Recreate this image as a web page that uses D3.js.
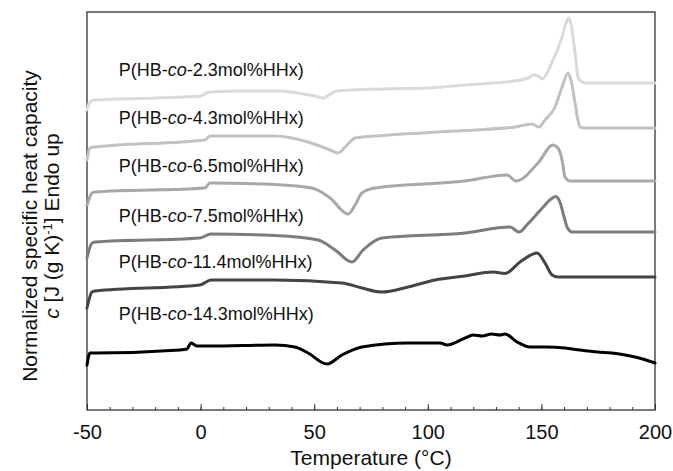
<!DOCTYPE html>
<html>
<head>
<meta charset="utf-8">
<script src="https://cdn.jsdelivr.net/npm/d3@7"></script>
<style>
  body { margin: 0; background: #fff; }
  text { font-family: "Liberation Sans", Arial, sans-serif; }
</style>
</head>
<body>
<svg id="chart-dsc" width="673" height="471"></svg>
<script>
// sample names, top to bottom
var samples = ["2.3", "4.3", "6.5", "7.5", "11.4", "14.3"];

// traces: [temperature (°C), c in arbitrary offset units]
var hhx23 = [[-50, 300], [-49, 307], [-47, 310], [-20, 312], [0, 314], [4, 318], [20, 319], [35, 319],
  [45, 316], [50, 314], [54, 312], [57, 316], [60, 319], [80, 321], [100, 322], [116, 325], [138, 329],
  [144, 332], [146.7, 335], [148.5, 334], [150.3, 331], [152, 335], [155.1, 350], [157, 360], [159.1, 373],
  [161, 388], [162, 392], [163, 386], [163.5, 380], [164.5, 362], [165.2, 350], [166.1, 333], [167.9, 328],
  [170, 327], [200, 327]];
var hhx43 = [[-50, 250], [-48.7, 262], [-46.5, 263], [1.9, 270], [4.1, 274], [32.7, 274], [47.3, 268],
  [57, 260], [60.5, 257], [63.6, 263], [68, 272], [76.8, 274], [116.4, 279.5], [138.4, 283], [145.9, 286],
  [148.9, 283], [151.6, 290], [156, 303], [159.1, 323], [161.7, 337], [163, 330], [164.8, 307], [166.1, 290],
  [167, 283], [169.1, 282], [200, 282]];
var hhx65 = [[-50, 205], [-47.8, 217], [-46.5, 218], [1.9, 222], [4.1, 227], [32.7, 225.5], [49, 222],
  [57, 212], [64.9, 196], [68, 205], [71, 217], [76.8, 222], [116.4, 229], [134.9, 235], [138.8, 229],
  [148.5, 247], [155.1, 265], [157.3, 262], [159.1, 250], [160.4, 233], [162.6, 229], [200, 229]];
var hhx75 = [[-50, 152], [-47.8, 167], [-46.5, 168], [-0.3, 172], [4.6, 176], [32.7, 174.5], [51.7, 170],
  [59.2, 160], [66.6, 148], [71.5, 160], [79.8, 172], [116.4, 177], [136.2, 183], [140.1, 178], [144, 186],
  [148, 196], [151.6, 205], [154.5, 211.5], [156.3, 213.5], [158.3, 207], [160, 193], [161.5, 182],
  [163.5, 178], [200, 178]];
var hhx114 = [[-50, 102], [-47.8, 118], [-46.5, 119], [-0.3, 125], [4.6, 130], [32.7, 130], [62.2, 127],
  [71, 122], [79.8, 118], [91.3, 123], [103.2, 130], [116.4, 134], [128.7, 138], [134, 136.5], [140.6, 148],
  [148.1, 157], [151.6, 147], [154.7, 135], [157.3, 133], [200, 133]];
var hhx143 = [[-50, 45], [-48.7, 57], [-46.5, 57], [-9.1, 60], [-6, 61], [-4.2, 67], [-1.6, 64], [4.1, 64],
  [32.7, 65], [41.5, 63], [47.3, 57], [55.6, 46], [62.2, 55], [71, 63], [91.3, 67], [105.4, 67], [108.5, 65],
  [116.4, 72], [119.9, 75], [124, 74], [128, 76], [131.8, 75], [134, 76], [139.3, 68], [145, 63], [152, 63],
  [160.4, 62], [167, 60], [174.9, 58], [181, 57], [186.8, 55], [193, 52], [198.7, 48], [200, 47]];

var traces = [hhx23, hhx43, hhx65, hhx75, hhx114, hhx143];
var colors = ["#dadada", "#c2c2c2", "#a8a8a8", "#7c7c7c", "#444444", "#000000"];

var xTicks = [-50, 0, 50, 100, 150, 200];

(function dsc() {
    var svg = d3.select("#chart-dsc"),
        margin = {top: 12, right: 18, bottom: 61, left: 87},
        width = +svg.attr("width") - margin.left - margin.right,
        height = +svg.attr("height") - margin.top - margin.bottom,
        g = svg.append("g").attr("transform", "translate(" + margin.left + "," + margin.top + ")");

    var x = d3.scaleLinear().domain([-50, 200]).range([0, width]);
    var y = d3.scaleLinear().domain([0, height]).range([height, 0]);

    var line = d3.line()
        .x(function(d) { return x(d[0]); })
        .y(function(d) { return y(d[1]); })
        .curve(d3.curveMonotoneX);

    // minor ticks
    g.append("g")
        .attr("transform", "translate(0," + height + ")")
        .call(d3.axisBottom(x).tickValues(d3.range(-50, 201, 10)).tickSize(-3).tickFormat(""))
        .call(function(a) { a.select(".domain").remove(); })
        .selectAll("line").attr("stroke", "#333");

    // major ticks + labels
    g.append("g")
        .attr("transform", "translate(0," + height + ")")
        .call(d3.axisBottom(x).tickValues(xTicks).tickSize(-6).tickPadding(15)
            .tickFormat(function(d) { return String(d); }))
        .call(function(a) {
            a.select(".domain").remove();
            a.selectAll("line").attr("stroke", "#333");
            a.selectAll("text").attr("font-size", 20).attr("fill", "#111")
                .style("font-family", "'Liberation Sans', Arial, sans-serif");
        });

    // frame
    g.append("rect")
        .attr("width", width).attr("height", height)
        .attr("fill", "none").attr("stroke", "#333").attr("stroke-width", 1.3);

    g.selectAll("path.trace")
        .data(traces)
        .enter().append("path")
        .attr("class", "trace")
        .attr("fill", "none")
        .attr("stroke", function(d, i) { return colors[i]; })
        .attr("stroke-width", 3)
        .attr("stroke-linejoin", "round")
        .attr("stroke-linecap", "round")
        .attr("d", line);

    // sample labels
    var labelY = [334, 286, 238, 188, 142, 90];
    var lab = g.selectAll("text.sample")
        .data(samples)
        .enter().append("text")
        .attr("class", "sample")
        .attr("x", x(-36))
        .attr("y", function(d, i) { return y(labelY[i]); })
        .attr("font-size", 18)
        .attr("fill", "#111");
    lab.append("tspan").text("P(HB-");
    lab.append("tspan").attr("font-style", "italic").text("co");
    lab.append("tspan").text(function(d) { return "-" + d + "mol%HHx)"; });

    // x title
    svg.append("text")
        .attr("x", margin.left + x(75))
        .attr("y", 471)
        .attr("dy", "-0.28em")
        .attr("text-anchor", "middle")
        .attr("font-size", 21)
        .attr("fill", "#111")
        .text("Temperature (°C)");

    // y title
    var yt = svg.append("g").attr("transform", "translate(0,226) rotate(-90)");
    yt.append("text")
        .attr("x", 0).attr("y", 37)
        .attr("text-anchor", "middle")
        .attr("font-size", 21)
        .attr("fill", "#111")
        .text("Normalized specific heat capacity");
    var t2 = yt.append("text")
        .attr("x", 0).attr("y", 59)
        .attr("text-anchor", "middle")
        .attr("font-size", 21)
        .attr("fill", "#111");
    t2.append("tspan").attr("font-style", "italic").text("c");
    t2.append("tspan").text(" [J (g K)");
    t2.append("tspan").attr("dy", -7).attr("font-size", 13).text("-1");
    t2.append("tspan").attr("dy", 7).text("] Endo up");
})();
</script>
</body>
</html>
